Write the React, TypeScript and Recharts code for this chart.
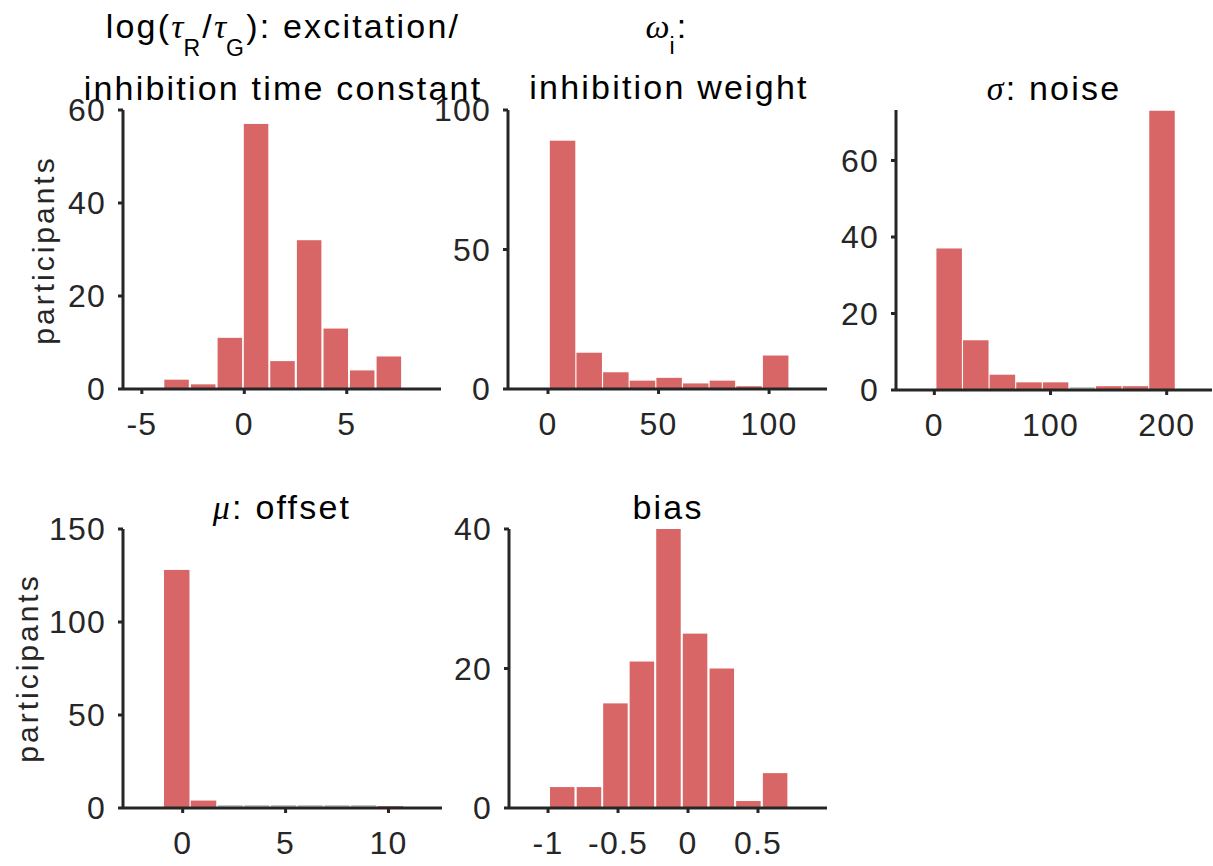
import React from 'react';
import { BarChart, Bar, XAxis, YAxis } from 'recharts';

// ---- data ----
const tauBinCenters = [-3.3, -2.0, -0.7, 0.58, 1.87, 3.17, 4.47, 5.76, 7.06];
const tauCounts = [2, 1, 11, 57, 6, 32, 13, 4, 7];
const tauTicks = [-5, 0, 5];
const tauCountTicks = [0, 20, 40, 60];

const omegaBinCenters = [6.5, 18.55, 30.6, 42.65, 54.7, 66.75, 78.8, 90.85, 102.9];
const omegaCounts = [89, 13, 6, 3, 4, 2, 3, 1, 12];
const omegaTicks = [0, 50, 100];
const omegaCountTicks = [0, 50, 100];

const sigmaBinCenters = [12.6, 35.5, 58.4, 81.3, 104.2, 127.1, 150.0, 172.9, 195.8];
const sigmaCounts = [37, 13, 4, 2, 2, 0, 1, 1, 73];
const sigmaTicks = [0, 100, 200];
const sigmaCountTicks = [0, 20, 40, 60];

const muBinCenters = [-0.3, 1.0, 2.3, 3.59, 4.89, 6.19, 7.49, 8.78, 10.08];
const muCounts = [128, 4, 0, 0, 0, 0, 0, 0, 1];
const muTicks = [0, 5, 10];
const muCountTicks = [0, 50, 100, 150];

const biasBinCenters = [-0.897, -0.706, -0.517, -0.328, -0.138, 0.052, 0.243, 0.433, 0.624];
const biasCounts = [3, 3, 15, 21, 40, 25, 20, 1, 5];
const biasTicks = [-1, -0.5, 0, 0.5];
const biasCountTicks = [0, 20, 40];

// ---- layout ----
const W = 1213;
const H = 866;
const FONT = '"Liberation Sans", Arial, Helvetica, sans-serif';
const GREEK = '"Liberation Serif", "DejaVu Serif", serif';
const AXIS = '#262626';
const AXW = 2; // axis width / height reserved

const toRows = (centers: number[], counts: number[]) =>
  centers.map((x, i) => ({ x, n: counts[i] }));

const panels = [
  { key: 'tau', rows: toRows(tauBinCenters, tauCounts), xTicks: tauTicks, yTicks: tauCountTicks,
    xDomain: [-5.92, 9.6], yDomain: [0, 60], left: 123, top: 110, right: 441, bottom: 389 },
  { key: 'omega', rows: toRows(omegaBinCenters, omegaCounts), xTicks: omegaTicks, yTicks: omegaCountTicks,
    xDomain: [-18.1, 126.2], yDomain: [0, 100], left: 508, top: 110, right: 827, bottom: 389 },
  { key: 'sigma', rows: toRows(sigmaBinCenters, sigmaCounts), xTicks: sigmaTicks, yTicks: sigmaCountTicks,
    xDomain: [-33, 239], yDomain: [0, 73.2], left: 896, top: 110, right: 1212, bottom: 390 },
  { key: 'mu', rows: toRows(muBinCenters, muCounts), xTicks: muTicks, yTicks: muCountTicks,
    xDomain: [-2.9, 12.6], yDomain: [0, 150], left: 123, top: 529, right: 442, bottom: 808 },
  { key: 'bias', rows: toRows(biasBinCenters, biasCounts), xTicks: biasTicks, yTicks: biasCountTicks,
    xDomain: [-1.279, 0.993], yDomain: [0, 40], left: 509, top: 529, right: 827, bottom: 808 },
];

const HistBar = (props: any) => {
  const { x, y, width, height } = props;
  if (x == null || width == null) return null;
  if (!height || height < 0.5) {
    const yy = (y || 0) + (height || 0) - 2;
    return <line x1={x + 1} x2={x + width - 1} y1={yy} y2={yy} stroke="#b5b5b5" strokeWidth={1.5} />;
  }
  return (
    <rect
      x={x + 0.75}
      y={y}
      width={Math.max(0, width - 1.5)}
      height={height}
      fill="rgb(204,51,51)"
      fillOpacity={0.75}
    />
  );
};

const Panel = ({ p }: { p: any }) => (
  <div style={{ position: 'absolute', left: 0, top: 0, width: W, height: H, letterSpacing: '1.2px', fontFamily: FONT }}>
    <BarChart
      width={W}
      height={H}
      data={p.rows}
      margin={{ top: p.top, left: p.left - AXW, right: W - p.right, bottom: H - p.bottom - AXW }}
      barCategoryGap={0}
      barGap={0}
    >
      <XAxis
        type="number"
        dataKey="x"
        domain={p.xDomain}
        ticks={p.xTicks}
        allowDataOverflow
        interval={0}
        height={AXW}
        tickSize={5}
        tickMargin={18}
        axisLine={{ stroke: AXIS, strokeWidth: 3 }}
        tickLine={{ stroke: AXIS, strokeWidth: 3 }}
        tick={{ fontSize: 32, fill: AXIS, fontFamily: FONT }}
      />
      <YAxis
        type="number"
        domain={p.yDomain}
        ticks={p.yTicks}
        allowDataOverflow
        interval={0}
        width={AXW}
        tickSize={5}
        tickMargin={12}
        axisLine={{ stroke: AXIS, strokeWidth: 3 }}
        tickLine={{ stroke: AXIS, strokeWidth: 3 }}
        tick={{ fontSize: 32, fill: AXIS, fontFamily: FONT }}
      />
      <Bar dataKey="n" isAnimationActive={false} shape={(bp: any) => <HistBar {...bp} />} />
    </BarChart>
  </div>
);

const titleStyle: React.CSSProperties = { letterSpacing: '2.2px' };

const Labels = () => (
  <svg width={W} height={H} style={{ position: 'absolute', left: 0, top: 0, pointerEvents: 'none' }}>
    <g fontFamily={FONT} fontSize={34} fill="#000" style={titleStyle}>
      <text x={283} y={38} textAnchor="middle">
        log(
        <tspan fontFamily={GREEK} fontStyle="italic" style={{ letterSpacing: '0px' }}>τ</tspan>
        <tspan dy={18} fontSize={23}>R</tspan>
        <tspan dy={-18}>/</tspan>
        <tspan fontFamily={GREEK} fontStyle="italic" style={{ letterSpacing: '0px' }}>τ</tspan>
        <tspan dy={18} fontSize={23}>G</tspan>
        <tspan dy={-18}>): excitation/</tspan>
      </text>
      <text x={283} y={100} textAnchor="middle">inhibition time constant</text>
      <text x={667} y={38} textAnchor="middle">
        <tspan fontFamily={GREEK} fontStyle="italic" style={{ letterSpacing: '0px' }}>ω</tspan>
        <tspan dy={16} fontSize={23}>i</tspan>
        <tspan dy={-16}>:</tspan>
      </text>
      <text x={669} y={99} textAnchor="middle">inhibition weight</text>
      <text x={1054} y={100} textAnchor="middle">
        <tspan fontFamily={GREEK} fontStyle="italic">σ</tspan>: noise
      </text>
      <text x={282} y={519} textAnchor="middle">
        <tspan fontFamily={GREEK} fontStyle="italic">μ</tspan>: offset
      </text>
      <text x={668} y={519} textAnchor="middle">bias</text>
    </g>
    <g fontFamily={FONT} fontSize={30} fill={AXIS} style={{ letterSpacing: '3px' }}>
      <text x={54} y={250} textAnchor="middle" transform="rotate(-90 54 250)">participants</text>
      <text x={37.5} y={668} textAnchor="middle" transform="rotate(-90 37.5 668)">participants</text>
    </g>
  </svg>
);

export default function App() {
  return (
    <div style={{ position: 'absolute', left: 0, top: 0, width: W, height: H, background: '#fff', overflow: 'hidden' }}>
      {panels.map((p) => (
        <Panel key={p.key} p={p} />
      ))}
      <Labels />
    </div>
  );
}
